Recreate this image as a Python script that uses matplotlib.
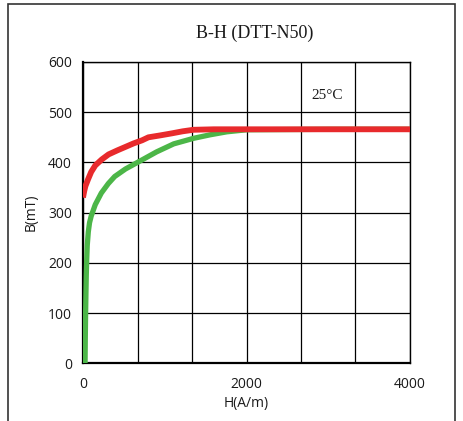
import matplotlib
matplotlib.use("Agg")
import matplotlib.pyplot as plt
from matplotlib.patches import Rectangle

# Data
red_H = [0, 15, 30, 61, 100, 150, 230, 313, 420, 520, 620, 722, 800, 950, 1090, 1220, 1350, 1600, 2000, 3000, 4000]
red_B = [330, 343, 353, 366, 381, 394, 406, 416, 424, 431, 438, 444, 450, 454, 458, 462, 465, 466, 466, 466, 466]
green_H = [25, 28, 32, 36, 40, 45, 52, 65, 80, 100, 150, 224, 310, 388, 520, 722, 900, 1110, 1352, 1554, 1760, 2000, 3000, 4000]
green_B = [0, 50, 100, 140, 175, 205, 235, 262, 280, 293, 316, 339, 358, 372, 387, 405, 421, 437, 448, 455, 461, 465, 466, 466]

x_grid = [0, 666.67, 1333.33, 2000, 2666.67, 3333.33, 4000]
x_labels = ["0", "", "", "2000", "", "", "4000"]
y_ticks = [0, 100, 200, 300, 400, 500, 600]
y_labels = ["0", "100", "200", "300", "400", "500", "600"]

title = "B-H (DTT-N50)"
xlabel = "H(A/m)"
ylabel = "B(mT)"
annot = "25\u00b0C"

fig = plt.figure(figsize=(4.63, 4.21), dpi=100)
fig.patch.set_facecolor("white")
fig.patches.append(Rectangle((8 / 463, -0.02), 447 / 463, (417 / 421) + 0.02,
                             transform=fig.transFigure, fill=False,
                             edgecolor="#333333", linewidth=1.2))

ax = fig.add_axes([83 / 463, (421 - 363.3) / 421, 327 / 463, (363.3 - 62) / 421])
ax.plot(green_H, green_B, color="#4cb648", linewidth=3.8, solid_capstyle="butt",
        solid_joinstyle="round", zorder=3)
ax.plot(red_H, red_B, color="#e82a2c", linewidth=4.2, solid_capstyle="butt",
        solid_joinstyle="round", zorder=4)

ax.set_xlim(0, 4000)
ax.set_ylim(0, 600)
ax.set_xticks(x_grid)
ax.set_xticklabels(x_labels)
ax.set_yticks(y_ticks)
ax.set_yticklabels(y_labels)
ax.grid(True, color="black", linewidth=0.9)
ax.set_axisbelow(True)
ax.tick_params(length=0, labelsize=10, colors="#1a1a1a")
ax.tick_params(axis="x", pad=10)
ax.tick_params(axis="y", pad=8)
for s in ax.spines.values():
    s.set_color("black")
    s.set_linewidth(1.0)
ax.spines["left"].set_linewidth(1.6)
ax.spines["bottom"].set_linewidth(1.6)
for lab in ax.get_xticklabels() + ax.get_yticklabels():
    lab.set_fontfamily("Open Sans")

ax.set_xlabel(xlabel, fontsize=10, fontfamily="Open Sans", labelpad=3, color="#1a1a1a")
ax.set_ylabel(ylabel, fontsize=10, fontfamily="Open Sans", labelpad=7, color="#1a1a1a")
ax.text(2990, 534, annot, ha="center", va="center", fontsize=11,
        fontfamily="Liberation Serif", color="#1a1a1a")
fig.text(255 / 463, 1 - 33 / 421, title, ha="center", va="center",
         fontsize=13, fontfamily="Liberation Serif", color="#1a1a1a")

fig.savefig("out.png", dpi=100, facecolor="white")
